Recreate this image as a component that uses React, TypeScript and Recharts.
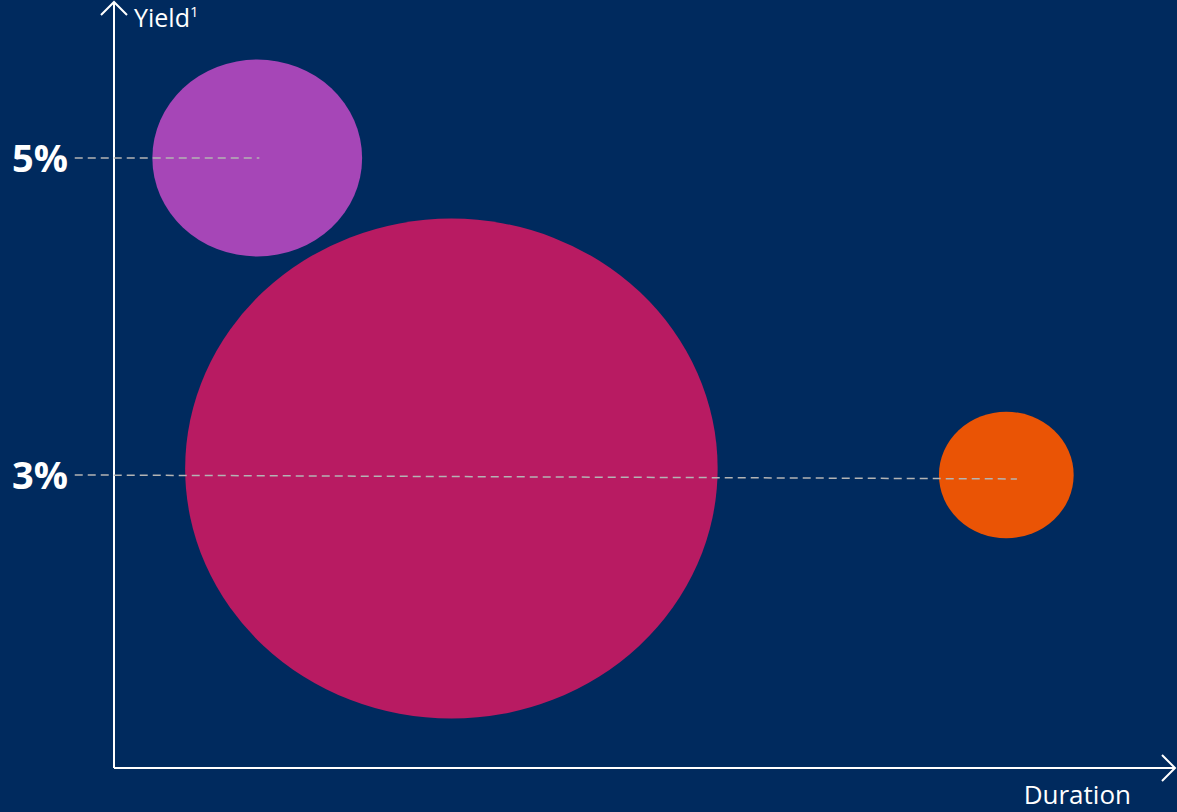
import React from 'react';
import { ScatterChart, Scatter, XAxis, YAxis, ReferenceLine } from 'recharts';

// values
const bubbleNames = ['High yield', 'Investment grade', 'Long duration'];
const durations = [1.35, 3.18, 8.41];
const yields = [5.0, 3.04, 3.0];
const sizes = [97, 625, 40];
const colors = ['#a646b7', '#b81b62', '#ea5405'];

const yieldTicks = [3, 5];
const guideStart = -0.37;
const guides = [
  { from: { x: guideStart, y: 5.0 }, to: { x: 1.37, y: 5.0 } },
  { from: { x: guideStart, y: 3.0 }, to: { x: 8.51, y: 2.975 } },
];

const BG = '#002a5e';
const FONT = '"Open Sans", "Noto Sans", sans-serif';

const bubbles = bubbleNames.map((name, i) => ({
  name,
  duration: durations[i],
  yield: yields[i],
  size: sizes[i],
  fill: colors[i],
}));

function Bubble(props: any) {
  const { cx, cy, payload } = props;
  const ry = Math.sqrt(payload.size) * 10;
  const rx = ry * 1.065;
  return <ellipse cx={cx} cy={cy} rx={rx} ry={ry} fill={payload.fill} />;
}

function YieldTick(props: any) {
  const { x, y, payload } = props;
  return (
    <text x={x} y={y + 14} textAnchor="end" fill="#fff" fontFamily={FONT} fontWeight={700} fontSize={38}>
      {payload.value}%
    </text>
  );
}

function YLabel(props: any) {
  const vb = props.viewBox || {};
  const ax = vb.x + vb.width;
  const top = vb.y;
  return (
    <g>
      <path d={`M${ax - 13},${top + 12} L${ax},${top - 1} L${ax + 13},${top + 12}`} stroke="#fff" strokeWidth={2} fill="none" />
      <text x={ax + 20} y={top + 24} fill="#fff" fontFamily={FONT} fontSize={25}>
        Yield<tspan fontSize={15} dy={-10}>1</tspan>
      </text>
    </g>
  );
}

function XLabel(props: any) {
  const vb = props.viewBox || {};
  const right = vb.x + vb.width;
  const ay = vb.y;
  return (
    <g>
      <path d={`M${right - 13},${ay - 13} L${right},${ay} L${right - 13},${ay + 13}`} stroke="#fff" strokeWidth={2} fill="none" />
      <text x={right - 44} y={ay + 36} textAnchor="end" fill="#fff" fontFamily={FONT} fontSize={26}>
        Duration
      </text>
    </g>
  );
}

export default function App() {
  return (
    <div style={{ position: 'fixed', left: 0, top: 0, width: 1177, height: 812, background: BG }}>
      <ScatterChart width={1177} height={812} margin={{ top: 3, right: 2, bottom: 0, left: 0 }}>
        <XAxis
          type="number"
          dataKey="duration"
          domain={[0, 10]}
          allowDataOverflow
          height={44}
          tick={false}
          tickLine={false}
          axisLine={{ stroke: '#fff', strokeWidth: 2 }}
          label={<XLabel />}
        />
        <YAxis
          type="number"
          dataKey="yield"
          domain={[1.151, 5.978]}
          allowDataOverflow
          width={114}
          ticks={yieldTicks}
          tick={<YieldTick />}
          tickLine={false}
          tickSize={0}
          tickMargin={46}
          axisLine={{ stroke: '#fff', strokeWidth: 2 }}
          label={<YLabel />}
        />
        {bubbles.map((b) => (
          <Scatter key={b.name} name={b.name} data={[b]} fill={b.fill} shape={<Bubble />} isAnimationActive={false} />
        ))}
        {guides.map((g, i) => (
          <ReferenceLine
            key={i}
            segment={[g.from, g.to]}
            stroke="#b4b4b4"
            strokeWidth={1.5}
            strokeDasharray="8 5"
            ifOverflow="visible"
            zIndex={1000}
          />
        ))}
      </ScatterChart>
    </div>
  );
}
